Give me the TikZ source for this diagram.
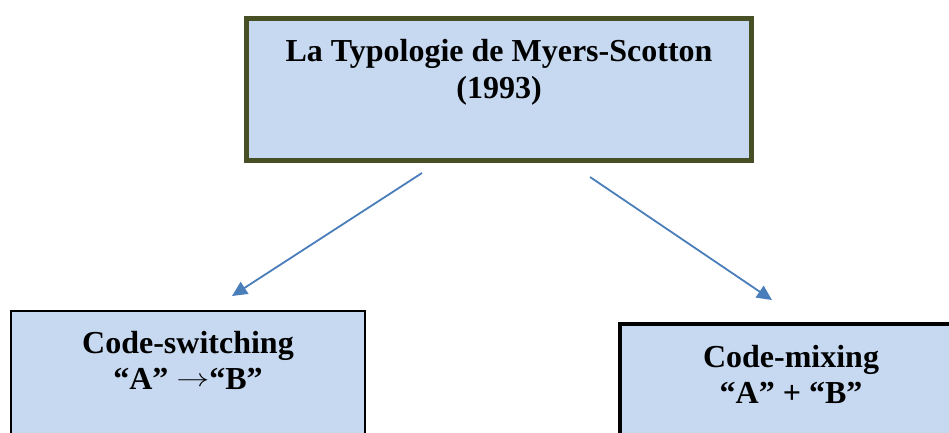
\documentclass[tikz,border=0pt]{standalone}
\usepackage{fontspec}
\usepackage{graphicx}
\setmainfont{Liberation Serif}
\usetikzlibrary{arrows.meta}
\definecolor{boxfill}{HTML}{C6D9F1}
\definecolor{olive}{HTML}{465024}
\definecolor{arrowblue}{HTML}{4A7EBB}
\newcommand{\bigarrowglyph}{{\fontsize{10}{12}\selectfont\raisebox{3pt}{\scalebox{3.3}[2.5]{$\rightarrow$}}}}
\tikzset{
  box/.style={draw, fill=boxfill, rectangle, inner sep=0pt},
  lbl/.style={anchor=base, inner sep=0pt, font=\bfseries\fontsize{32}{37}\selectfont},
  conn/.style={draw=arrowblue, line width=1.8pt, -{Triangle[length=15pt, width=14pt]}}
}
\begin{document}
\begin{tikzpicture}[x=1pt,y=-1pt]
\useasboundingbox (0,0) rectangle (949,433);
\clip (0,0) rectangle (949,433);
% boxes
\node[box, draw=olive, line width=5pt, minimum width=505pt, minimum height=142pt] (top) at (499,89.5) {};
\node[box, draw=black, line width=2pt, minimum width=354pt, minimum height=160pt] (left) at (188,391) {};
\node[box, draw=black, line width=4pt, minimum width=360pt, minimum height=150pt] (right) at (800,399) {};
% texts
\node[lbl] (t1) at (499,62) {La Typologie de Myers-Scotton};
\node[lbl] (t2) at (499,99) {(1993)};
\node[lbl] (l1) at (188,353) {Code-switching};
\node[lbl] (l2) at (188,389) {“A” \bigarrowglyph“B”};
\node[lbl] (r1) at (791,367) {Code-mixing};
\node[lbl] (r2) at (791,403) {“A” + “B”};
% connector endpoints
\coordinate (aS) at (422,173);
\coordinate (aE) at (232,296);
\coordinate (bS) at (590,177);
\coordinate (bE) at (772,300);
\draw[conn] (aS) -- (aE);
\draw[conn] (bS) -- (bE);
\end{tikzpicture}
\end{document}
